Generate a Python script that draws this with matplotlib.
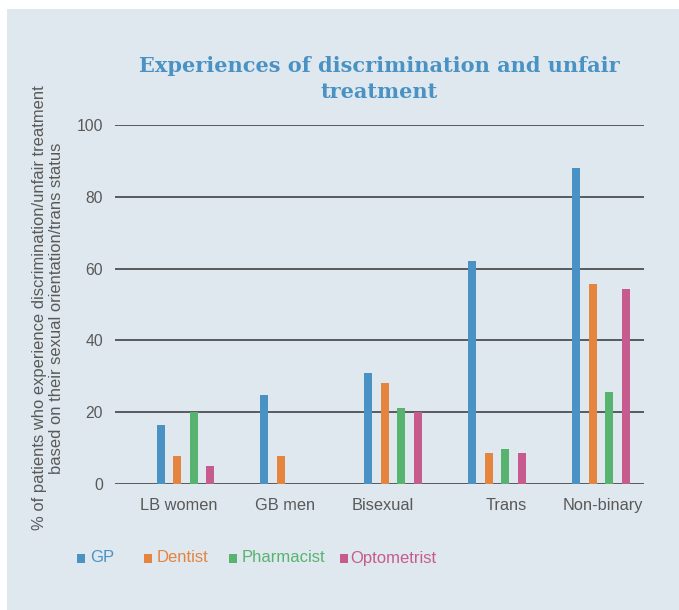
import matplotlib
matplotlib.use("Agg")
from matplotlib import pyplot as plt
from matplotlib.patches import Rectangle
from matplotlib.transforms import ScaledTranslation
import numpy as np

categories = ["LB women", "GB men", "Bisexual", "Trans", "Non-binary"]
series_names = ["GP", "Dentist", "Pharmacist", "Optometrist"]
gp = [16.3, 24.7, 30.9, 62.2, 88.0]
dentist = [7.7, 7.7, 28.0, 8.7, 55.8]
pharmacist = [20.0, np.nan, 21.1, 9.7, 25.7]
optometrist = [5.1, np.nan, 20.0, 8.7, 54.2]
y_ticks = [0, 20, 40, 60, 80, 100]

colors = ["#4a92c3", "#e5843e", "#58b370", "#c75b8f"]
bg = "#dee8ee"
text_grey = "#595959"

plt.rcParams['font.family'] = ['Liberation Sans', 'DejaVu Sans']

fig = plt.figure(figsize=(6.79, 6.10), dpi=100)
fig.patch.set_facecolor("white")
fig.patches.append(Rectangle((7 / 679, 0), 1 - 7 / 679, 1 - 9 / 610,
                             transform=fig.transFigure, facecolor=bg,
                             edgecolor="none", zorder=-10))

ax = fig.add_axes([115 / 679, (610 - 484) / 610, 529 / 679, 359 / 610])
ax.set_facecolor("none")

x = np.arange(len(categories))
unit = 103.9
step = 16.5 / unit
width = 8 / unit
for k, vals in enumerate([gp, dentist, pharmacist, optometrist]):
    ax.bar(x + (k - 1.5) * step, vals, width=width, color=colors[k], zorder=3)

ax.set_ylim(0, 100)
ax.set_xlim(-70.25 / unit, -70.25 / unit + 529 / unit)
ax.set_yticks(y_ticks)
ax.set_xticks(x)
ax.set_xticklabels(categories)
for v in y_ticks:
    ax.axhline(v, color="#575b5e", linewidth=1.4, zorder=2)
for s in ax.spines.values():
    s.set_visible(False)
ax.tick_params(axis="both", length=0, colors=text_grey, labelsize=11.3)
ax.tick_params(axis="y", pad=8.5)
ax.tick_params(axis="x", pad=10, labelsize=11.8)

# the labels in the reference sit a little off the group centres
label_shift = [-7, -4, -10, 9, 2]
for lab, dx in zip(ax.get_xticklabels(), label_shift):
    lab.set_transform(lab.get_transform() + ScaledTranslation(dx / 100, 0, fig.dpi_scale_trans))

fig.text(379 / 679, 1 - 79 / 610,
         "Experiences of discrimination and unfair\ntreatment",
         ha="center", va="center", fontsize=15, fontweight="bold",
         family="DejaVu Serif", color="#4a92c3", linespacing=1.32)

fig.text(48 / 679, 1 - 308 / 610,
         "% of patients who experience discrimination/unfair treatment\n"
         "based on their sexual orientation/trans status",
         ha="center", va="center", rotation=90, fontsize=11.9,
         color=text_grey, linespacing=1.2)

legend_x = [77, 144, 229, 340]
for k, name in enumerate(series_names):
    fig.patches.append(Rectangle((legend_x[k] / 679, 1 - 563 / 610), 8 / 679, 9 / 610,
                                 transform=fig.transFigure, facecolor=colors[k],
                                 edgecolor="none"))
    fig.text((legend_x[k] + 13 - (3 if k == 3 else 0)) / 679, 1 - 558 / 610, name,
             ha="left", va="center", fontsize=12.0, color=colors[k])

fig.savefig("out.png", dpi=100)
